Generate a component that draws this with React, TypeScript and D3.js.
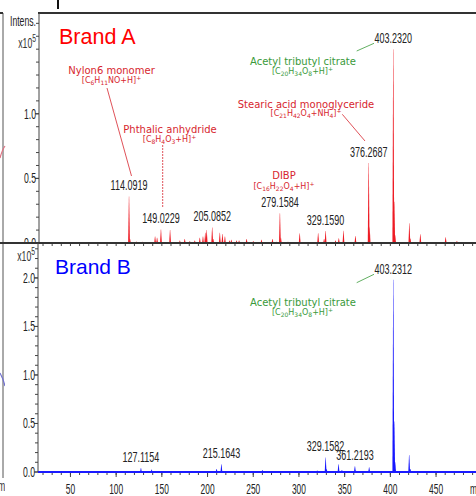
import * as d3 from 'd3';
import React from 'react';

const W = 476, H = 496;

// Brand A spectrum: m/z and intensity (x10^5)
const mzA = [114.09, 115.1, 122, 129, 142.6, 144.8, 149.02, 159, 169.7, 175, 180.6, 186, 191.5, 195, 197.5,
  199, 205.09, 206.2, 213.4, 216.3, 219, 224, 226, 231.7, 234.5, 242.7, 250, 259, 271, 275.5, 279.16, 280.2,
  288, 300.8, 321, 327.5, 329.16, 340, 343.6, 348.7, 361.8, 376.27, 377.3, 403.23, 404.24, 405.2, 420.8,
  421.8, 432.8, 460.5, 472.8];
const intA = [0.36, 0.03, 0.012, 0.01, 0.05, 0.04, 0.105, 0.1, 0.02, 0.03, 0.015, 0.02, 0.04, 0.05, 0.08,
  0.1, 0.12, 0.03, 0.08, 0.07, 0.05, 0.02, 0.025, 0.02, 0.02, 0.03, 0.015, 0.025, 0.03, 0.01, 0.23, 0.04,
  0.01, 0.075, 0.075, 0.03, 0.093, 0.02, 0.037, 0.095, 0.054, 0.62, 0.12, 1.5, 0.32, 0.06, 0.153,
  0.035, 0.067, 0.045, 0.015];
const labelMzA = [114.09, 149.02, 205.09, 279.16, 329.16, 376.27, 403.23];
const labelIntA = [0.36, 0.105, 0.12, 0.23, 0.093, 0.62, 1.5];
const labelTextA = ['114.0919', '149.0229', '205.0852', '279.1584', '329.1590', '376.2687', '403.2320'];

// Brand B spectrum
const mzB = [114.1, 127.12, 138.8, 149, 209.9, 215.16, 260, 320, 329.16, 330.2, 343.3, 347, 361.22, 362.2,
  376.8, 390, 403.23, 404.24, 405.2, 420.6, 421.8];
const intB = [0.01, 0.04, 0.025, 0.01, 0.03, 0.08, 0.02, 0.015, 0.15, 0.03, 0.08, 0.02, 0.06, 0.015,
  0.05, 0.01, 1.98, 0.52, 0.1, 0.175, 0.03];
const labelMzB = [127.12, 215.16, 329.16, 361.22, 403.23];
const labelIntB = [0.04, 0.08, 0.15, 0.06, 1.98];
const labelTextB = ['127.1154', '215.1643', '329.1582', '361.2193', '403.2312'];

const xTicks = [50, 100, 150, 200, 250, 300, 350, 400, 450];
const yTicksA = [0.0, 0.5, 1.0];
const yTicksB = [0.0, 0.5, 1.0, 1.5, 2.0];

const narrow = "'Liberation Sans Narrow', 'Liberation Sans', sans-serif";
const verdana = "'DejaVu Sans', Verdana, sans-serif";
const RED = '#d7262e';
const GREEN = '#3a9a3a';

const x = d3.scaleLinear().domain([15.6, 493.7]).range([39, 476]);
const yA = d3.scaleLinear().domain([0, 1.78]).range([243, 13]);
const yB = d3.scaleLinear().domain([0, 2.36]).range([472, 243]);

const peakPath = (m: number, v: number, y: d3.ScaleLinear<number, number>) => {
  const px = x(m), y0 = y(0), y1 = y(v);
  return `M${px - 0.9},${y0}L${px - 0.15},${y1}L${px + 0.15},${y1}L${px + 0.9},${y0}Z`;
};

function Num({ px, py, text, size = 15, anchor = 'middle', sx = 0.6 }: any) {
  return (
    <text transform={`translate(${px},${py}) scale(${sx},1)`} textAnchor={anchor}
      fontSize={size} fontFamily={narrow} fill="#222">{text}</text>
  );
}

// digits become subscripts, "+" after "]" a superscript
function Formula({ px, py, f, fill }: any) {
  const segs: { t: string; k: string }[] = [];
  for (let i = 0; i < f.length; i++) {
    const c = f[i];
    const k = /\d/.test(c) ? 'sub' : (c === '+' && f[i - 1] === ']') ? 'sup' : 'n';
    if (segs.length && segs[segs.length - 1].k === k) segs[segs.length - 1].t += c;
    else segs.push({ t: c, k });
  }
  let cur = 0;
  return (
    <text x={px} y={py} textAnchor="middle" fontSize={8} fontFamily={verdana} fill={fill}>
      {segs.map((s, i) => {
        const target = s.k === 'sub' ? 2 : s.k === 'sup' ? -3 : 0;
        const dy = target - cur;
        cur = target;
        return <tspan key={i} dy={dy} fontSize={s.k === 'n' ? 8 : 6}>{s.t}</tspan>;
      })}
    </text>
  );
}

function YAxis({ y, ax, majors, max, x10y }: any) {
  const minors = d3.range(0, max + 0.001, 0.1);
  return (
    <g>
      <line x1={ax} x2={ax} y1={y.range()[1]} y2={y.range()[0]} stroke="#444" />
      {minors.map((t: number, i: number) => (
        <line key={i} x1={ax - 3} x2={ax} y1={y(t)} y2={y(t)} stroke="#444" />
      ))}
      {majors.map((t: number) => (
        <g key={t}>
          <line x1={ax - 4} x2={ax} y1={y(t)} y2={y(t)} stroke="#444" />
          <Num px={ax - 3} py={y(t) + 5} text={t.toFixed(1)} size={14} anchor="end" sx={0.62} />
        </g>
      ))}
      <text transform={`translate(${ax - 3},${x10y}) scale(0.62,1)`} textAnchor="end" fontSize={14}
        fontFamily={narrow} fill="#333">x10<tspan dy={-6} fontSize={11}>5</tspan></text>
    </g>
  );
}

export default function App() {
  const minorX = d3.range(20, 491, 10);
  return (
    <svg width={W} height={H} style={{ position: 'absolute', left: 0, top: 0, background: '#fff' }}>
      <rect width={W} height={H} fill="#fff" />

      {/* pieces of the neighbouring chart */}
      <line x1={3} x2={3} y1={13} y2={478} stroke="#555" />
      <line x1={0} x2={3} y1={13} y2={13} stroke="#333" strokeWidth={2} />
      <line x1={0} x2={4} y1={243} y2={243} stroke="#333" strokeWidth={2} />
      <path d="M0,158 Q2,150 5,146" fill="none" stroke="#e07080" strokeWidth={1.2} />
      <path d="M0,373 Q3,378 5,386" fill="none" stroke="#7070d0" strokeWidth={1.2} />
      <text transform="translate(-2,491) scale(0.62,1)" fontSize={14} fontFamily={narrow} fill="#333">ml</text>
      <line x1={58} x2={58} y1={0} y2={9} stroke="#111" strokeWidth={2} />

      {/* ---------- Brand A ---------- */}
      <line x1={38} x2={W} y1={13} y2={13} stroke="#333" strokeWidth={2} />
      <YAxis y={yA} ax={39} majors={yTicksA} max={1.7} x10y={48} />
      <Num px={36} py={26} text="Intens." size={14} anchor="end" sx={0.62} />
      <line x1={39} x2={W} y1={242.5} y2={242.5} stroke="#e8303a" strokeOpacity={0.6} />
      {mzA.map((m, i) => (
        <path key={i} d={peakPath(m, intA[i], yA)} fill="#ee1c25" />
      ))}
      {labelMzA.map((m, i) => (
        <Num key={i} px={x(m)} py={yA(labelIntA[i]) - 6} text={labelTextA[i]} />
      ))}
      <text x={59} y={44} fontSize={21.5} fontFamily="'Liberation Sans', Arial, sans-serif" fill="#ff0000">Brand A</text>

      <text x={111.5} y={74} textAnchor="middle" fontSize={10} fontFamily={verdana} fill={RED}>Nylon6 monomer</text>
      <Formula px={111.5} py={83} f="[C6H11NO+H]+" fill={RED} />
      <line x1={107} y1={88} x2={131.5} y2={176} stroke={RED} strokeWidth={0.8} />

      <text x={170} y={133} textAnchor="middle" fontSize={10} fontFamily={verdana} fill={RED}>Phthalic anhydride</text>
      <Formula px={169.5} py={141.5} f="[C8H4O3+H]+" fill={RED} />
      <line x1={162.7} y1={145} x2={162.7} y2={207} stroke={RED} strokeWidth={0.8} strokeDasharray="2,1" />

      <text x={303} y={65} textAnchor="middle" fontSize={10} fontFamily={verdana} fill={GREEN}>Acetyl tributyl citrate</text>
      <Formula px={302.5} py={73.5} f="[C20H34O8+H]+" fill={GREEN} />
      <line x1={356.7} y1={51} x2={374} y2={43.3} stroke={GREEN} strokeWidth={0.8} />

      <text x={306} y={108} textAnchor="middle" fontSize={10} fontFamily={verdana} fill={RED}>Stearic acid monoglyceride</text>
      <Formula px={306} py={116} f="[C21H42O4+NH4]+" fill={RED} />
      <line x1={342.3} y1={114.3} x2={365} y2={141} stroke={RED} strokeWidth={0.8} />

      <text x={284} y={178.5} textAnchor="middle" fontSize={10} fontFamily={verdana} fill={RED}>DIBP</text>
      <Formula px={284} py={189} f="[C16H22O4+H]+" fill={RED} />

      {/* ---------- Brand B ---------- */}
      <rect x={5} y={244} width={W} height={H - 244} fill="#fff" />
      {minorX.map((t, i) => (
        <line key={i} x1={x(t)} x2={x(t)} y1={243} y2={246} stroke="#444" />
      ))}
      <line x1={0} x2={W} y1={243} y2={243} stroke="#333" strokeWidth={2} />
      <YAxis y={yB} ax={38} majors={yTicksB} max={2.3} x10y={260.5} />

      {minorX.map((t, i) => (
        <line key={i} x1={x(t)} x2={x(t)} y1={472} y2={475} stroke="#444" />
      ))}
      {xTicks.map((t) => (
        <g key={t}>
          <line x1={x(t)} x2={x(t)} y1={472} y2={477} stroke="#444" />
          <Num px={x(t)} py={494} text={String(t)} size={14} sx={0.6} />
        </g>
      ))}
      <Num px={470} py={494} text="m/z" size={14} anchor="start" sx={0.6} />
      {mzB.map((m, i) => (
        <path key={i} d={peakPath(m, intB[i], yB)} fill="#1818ff" />
      ))}
      <line x1={38} x2={W} y1={472} y2={472} stroke="#1a1aff" strokeWidth={2} />
      {labelMzB.map((m, i) => (
        <Num key={i} px={x(m)} py={yB(labelIntB[i]) - 6} text={labelTextB[i]} />
      ))}
      <text x={55} y={274.3} fontSize={21} fontFamily="'Liberation Sans', Arial, sans-serif" fill="#0000ff">Brand B</text>

      <text x={303} y={305.5} textAnchor="middle" fontSize={10} fontFamily={verdana} fill={GREEN}>Acetyl tributyl citrate</text>
      <Formula px={302.5} py={314.5} f="[C20H34O8+H]+" fill={GREEN} />
      <line x1={356.7} y1={282.7} x2={374} y2={274.3} stroke={GREEN} strokeWidth={0.8} />
    </svg>
  );
}
